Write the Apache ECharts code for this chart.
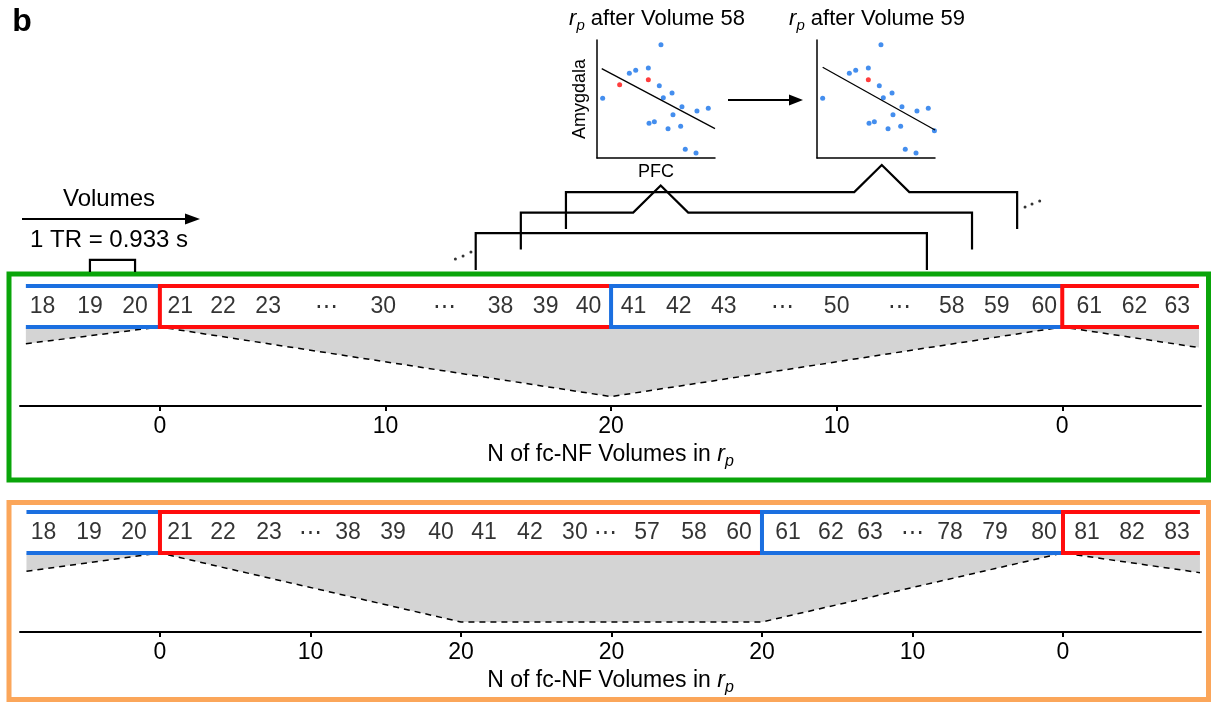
<!DOCTYPE html>
<html>
<head>
<meta charset="utf-8">
<title>fc-NF sliding window</title>
<script src="https://cdn.jsdelivr.net/npm/echarts@6/dist/echarts.min.js"></script>
<style>
  html, body { margin: 0; padding: 0; background: #fff; }
  #chart { width: 1213px; height: 705px; }
</style>
</head>
<body>
<div id="chart"></div>
<script>
// ---- values ----
// top panel: volume labels sit on slots of the "N of fc-NF volumes" axis
var topTokens = ['18', '19', '20', '21', '22', '23', '⋯', '30', '⋯', '38', '39', '40',
  '41', '42', '43', '⋯', '50', '⋯', '58', '59', '60', '61', '62', '63'];
var topTokenPos = [-5.2, -3.1, -1.1, 0.9, 2.8, 4.8, 7.4, 9.9, 12.6, 15.1, 17.1, 19.0,
  21.0, 23.0, 25.0, 27.6, 30.0, 32.8, 35.1, 37.1, 39.2, 41.2, 43.2, 45.1];
var topBlocks = [-5.94, 0, 20, 40, 46.06]; // block edges: blue | red | blue | red
var topNx = [-5.94, 0, 20, 40, 46.06];
var topNy = [4.8, 0, 20, 0, 5.9];
var topTicks = [0, 10, 20, 30, 40];
var topTickLabels = ['0', '10', '20', '10', '0'];

// bottom panel
var botTokens = ['18', '19', '20', '21', '22', '23', '⋯', '38', '39', '40', '41', '42', '30',
  '⋯', '57', '58', '60', '61', '62', '63', '⋯', '78', '79', '80', '81', '82', '83'];
var botTokenPos = [-7.74, -4.72, -1.73, 1.33, 4.19, 7.24, 9.97, 12.49, 15.48, 18.67, 21.53,
  24.58, 27.57, 29.63, 32.36, 35.48, 38.47, 41.73, 44.58, 47.18, 50.03, 52.49, 55.48,
  58.74, 61.59, 64.58, 67.57];
var botBlocks = [-8.87, 0, 40, 60, 69.1];
var botNx = [-8.87, 0, 20, 40, 60, 69.1];
var botNy = [5.3, 0, 20, 20, 0, 5.7];
var botTicks = [0, 10, 20, 30, 40, 50, 60];
var botTickLabels = ['0', '10', '20', '20', '20', '10', '0'];

// sliding 20-volume windows drawn as brackets above the top panel
var winStart = [14, 16, 18];
var winLevel = [1.9, 2.9, 3.9];
var winPeak = [null, 22.2, 32.0];
var winLen = 20;
var trSpan = [-3.1, -1.1];
var dotsLeft = [[13.1, 0.63], [13.44, 0.78], [13.79, 0.98]];
var dotsRight = [[38.35, 3.17], [38.66, 3.32], [39.0, 3.46]];

// PFC vs Amygdala scatter, r_p after volume 58 and 59
var blue58 = [[5.42, 9.60], [0.48, 5.06], [2.74, 7.18], [3.28, 7.43], [4.35, 7.63], [5.28, 6.13],
  [6.36, 5.51], [5.62, 5.11], [7.20, 4.35], [8.47, 3.98], [9.43, 4.21], [6.44, 3.67],
  [4.41, 2.94], [4.86, 3.08], [6.02, 2.48], [7.09, 2.69], [7.48, 0.74], [8.39, 0.42]];
var red58 = [[1.92, 6.21], [4.35, 6.64]];
var fit58 = [[0.4, 7.57], [10.0, 2.49]];
var blue59 = [[5.42, 9.60], [0.48, 5.06], [2.74, 7.18], [3.28, 7.43], [4.35, 7.63], [5.28, 6.13],
  [6.36, 5.51], [5.62, 5.11], [7.20, 4.35], [8.47, 3.98], [9.43, 4.21], [6.44, 3.67],
  [4.41, 2.94], [4.86, 3.08], [6.02, 2.48], [7.09, 2.69], [7.48, 0.74], [8.39, 0.42], [9.95, 2.30]];
var red59 = [[4.35, 6.64]];
var fit59 = [[0.48, 7.69], [10.0, 2.37]];

var FONT = '"Liberation Sans", Arial, Helvetica, sans-serif';
var BLUE = '#1b6fe0', RED = '#ff0d0d', GRAY = '#d4d4d4', DOT = '#1572ea';
var GREEN = '#0aa50a', ORANGE = '#fba65a';

var chart = echarts.init(document.getElementById('chart'));

function zip(xs, ys) {
  return xs.map(function (x, i) { return [x, ys[i]]; });
}

function blockSeries(edges, gi) {
  var out = [];
  for (var i = 0; i < edges.length - 1; i++) {
    var a = edges[i], b = edges[i + 1];
    var color = i % 2 === 0 ? BLUE : RED;
    // first block is cut off on the left, the others draw their own left edge
    var parts = i === 0 ? [[[a, 1], [b, 1]], [[a, 0], [b, 0]]] : [[[b, 1], [a, 1], [a, 0], [b, 0]]];
    parts.forEach(function (d) {
      out.push({
        type: 'line', xAxisIndex: gi, yAxisIndex: gi, data: d,
        symbol: 'none', clip: false, silent: true, z: 4,
        lineStyle: { color: color, width: 4, join: 'miter', cap: 'butt' }
      });
    });
  }
  return out;
}

function tokenSeries(tokens, pos, gi) {
  return {
    type: 'scatter', xAxisIndex: gi, yAxisIndex: gi, symbolSize: 0, silent: true, clip: false, z: 5,
    data: tokens.map(function (t, i) { return { name: t, value: [pos[i], 0.5] }; }),
    label: {
      show: true, position: 'inside', formatter: '{b}', color: '#000', fontSize: 23,
      fontFamily: FONT, textBorderWidth: 0
    }
  };
}

function nSeries(xs, ys, gi) {
  return {
    type: 'line', xAxisIndex: gi, yAxisIndex: gi, data: zip(xs, ys),
    symbol: 'none', clip: false, silent: true, z: 2,
    lineStyle: { color: '#000', width: 1.5, type: [6, 5] },
    areaStyle: { color: GRAY, opacity: 1, origin: 'start' }
  };
}

var nameRich = {
  r: { fontStyle: 'italic', fontSize: 23, fontFamily: FONT, color: '#000' },
  p: { fontStyle: 'italic', fontSize: 16, fontFamily: FONT, color: '#000', padding: [14, 0, 0, 0] }
};

function nAxis(gi, min, max, ticks, labels) {
  return {
    gridIndex: gi, type: 'value', min: min, max: max,
    axisLine: { show: true, onZero: false, lineStyle: { color: '#000', width: 2 } },
    axisTick: { show: true, customValues: ticks, length: 5, lineStyle: { color: '#000', width: 2 } },
    axisLabel: {
      show: true, customValues: ticks, margin: 9, fontSize: 23, color: '#000', fontFamily: FONT,
      formatter: function (v) { var i = ticks.indexOf(v); return i < 0 ? '' : labels[i]; }
    },
    splitLine: { show: false },
    name: 'N of fc-NF Volumes in {r|r}{p|p}', nameLocation: 'middle', nameGap: 34,
    nameTextStyle: { fontSize: 23, fontFamily: FONT, color: '#000', rich: nameRich }
  };
}

function hidden(gi, min, max) {
  return { gridIndex: gi, type: 'value', min: min, max: max, show: false };
}

function scatterAxes(gi) {
  var line = { show: true, onZero: false, lineStyle: { color: '#000', width: 1.5 } };
  return {
    x: {
      gridIndex: gi, type: 'value', min: 0, max: 10, axisLine: line, axisTick: { show: false },
      axisLabel: { show: false }, splitLine: { show: false }
    },
    y: {
      gridIndex: gi, type: 'value', min: 0, max: 10, axisLine: line, axisTick: { show: false },
      axisLabel: { show: false }, splitLine: { show: false }
    }
  };
}

var s5 = scatterAxes(5), s6 = scatterAxes(6);
s5.x.name = 'PFC';
s5.x.nameLocation = 'middle';
s5.x.nameGap = 5;
s5.x.nameTextStyle = { fontSize: 18, fontFamily: FONT, color: '#000', verticalAlign: 'top' };
s5.y.name = 'Amygdala';
s5.y.nameLocation = 'middle';
s5.y.nameGap = 8;
s5.y.nameTextStyle = { fontSize: 18, fontFamily: FONT, color: '#000' };

var bracketSeries = winStart.map(function (s, k) {
  var L = winLevel[k];
  var pts = [[s, L - 1.8], [s, L]];
  if (winPeak[k] !== null) {
    pts.push([winPeak[k] - 1.22, L], [winPeak[k], L + 1.32], [winPeak[k] + 1.22, L]);
  }
  pts.push([s + winLen, L], [s + winLen, L - 1.8]);
  return {
    type: 'line', xAxisIndex: 2, yAxisIndex: 2, data: pts, symbol: 'none', clip: false, silent: true,
    lineStyle: { color: '#000', width: 2.2, join: 'miter' }
  };
});

var series = []
  .concat(nSeries(topNx, topNy, 1))
  .concat(nSeries(botNx, botNy, 4))
  .concat(blockSeries(topBlocks, 0))
  .concat(blockSeries(botBlocks, 3))
  .concat(tokenSeries(topTokens, topTokenPos, 0))
  .concat(tokenSeries(botTokens, botTokenPos, 3))
  .concat(bracketSeries)
  .concat([
    {
      type: 'line', xAxisIndex: 2, yAxisIndex: 2, symbol: 'none', clip: false, silent: true,
      data: [[trSpan[0], 0], [trSpan[0], 0.59], [trSpan[1], 0.59], [trSpan[1], 0]],
      lineStyle: { color: '#000', width: 2.2, join: 'miter' }
    },
    {
      type: 'scatter', xAxisIndex: 2, yAxisIndex: 2, symbolSize: 3, clip: false, silent: true,
      data: dotsLeft.concat(dotsRight), itemStyle: { color: '#000' }
    },
    {
      type: 'line', xAxisIndex: 5, yAxisIndex: 5, data: fit58, symbol: 'none', silent: true,
      lineStyle: { color: '#000', width: 1.3 }
    },
    {
      type: 'scatter', xAxisIndex: 5, yAxisIndex: 5, data: blue58, symbolSize: 5, clip: false,
      silent: true, itemStyle: { color: DOT }
    },
    {
      type: 'scatter', xAxisIndex: 5, yAxisIndex: 5, data: red58, symbolSize: 5, clip: false,
      silent: true, itemStyle: { color: RED }
    },
    {
      type: 'line', xAxisIndex: 6, yAxisIndex: 6, data: fit59, symbol: 'none', silent: true,
      lineStyle: { color: '#000', width: 1.3 }
    },
    {
      type: 'scatter', xAxisIndex: 6, yAxisIndex: 6, data: blue59, symbolSize: 5, clip: false,
      silent: true, itemStyle: { color: DOT }
    },
    {
      type: 'scatter', xAxisIndex: 6, yAxisIndex: 6, data: red59, symbolSize: 5, clip: false,
      silent: true, itemStyle: { color: RED }
    }
  ]);

var titleRich = {
  r: { fontStyle: 'italic', fontSize: 22, fontFamily: FONT, fill: '#000' },
  p: { fontStyle: 'italic', fontSize: 15, fontFamily: FONT, fill: '#000', padding: [13, 0, 0, 0] },
  t: { fontSize: 22, fontFamily: FONT, fill: '#000' }
};

function centerText(text, x, y, size, weight) {
  return {
    type: 'text', silent: true, z: 10,
    style: {
      text: text, x: x, y: y, align: 'center', verticalAlign: 'middle',
      textAlign: 'center', textVerticalAlign: 'middle',
      font: (weight || 'normal') + ' ' + size + 'px ' + FONT, fill: '#000', rich: titleRich
    }
  };
}

var option = {
  animation: false,
  textStyle: { fontFamily: FONT },
  grid: [
    { left: 20, width: 1181, top: 286, height: 41 },
    { left: 20, width: 1181, top: 327, height: 79 },
    { left: 20, width: 1181, top: 149, height: 123 },
    { left: 20, width: 1181, top: 512, height: 41 },
    { left: 20, width: 1181, top: 553, height: 79 },
    { left: 597, width: 118, top: 40, height: 118 },
    { left: 817, width: 118, top: 40, height: 118 }
  ],
  xAxis: [
    hidden(0, -6.2, 46.15),
    nAxis(1, -6.2, 46.15, topTicks, topTickLabels),
    hidden(2, -6.2, 46.15),
    hidden(3, -9.3, 69.17),
    nAxis(4, -9.3, 69.17, botTicks, botTickLabels),
    s5.x,
    s6.x
  ],
  yAxis: [
    hidden(0, 0, 1),
    { gridIndex: 1, type: 'value', min: 0, max: 22.7, inverse: true, show: false },
    hidden(2, 0, 6),
    hidden(3, 0, 1),
    { gridIndex: 4, type: 'value', min: 0, max: 22.9, inverse: true, show: false },
    s5.y,
    s6.y
  ],
  graphic: [
    { type: 'rect', silent: true, z: 1, shape: { x: 9, y: 274, width: 1199.5, height: 206 },
      style: { fill: 'none', stroke: GREEN, lineWidth: 5 } },
    { type: 'rect', silent: true, z: 1, shape: { x: 9, y: 502.5, width: 1199.5, height: 197 },
      style: { fill: 'none', stroke: ORANGE, lineWidth: 5 } },
    centerText('b', 22, 22, 32, 'bold'),
    centerText('Volumes', 109, 199, 24),
    { type: 'line', silent: true, shape: { x1: 22, y1: 219, x2: 188, y2: 219 },
      style: { stroke: '#000', lineWidth: 2 } },
    { type: 'polygon', silent: true, shape: { points: [[185, 213.5], [200, 219], [185, 224.5]] },
      style: { fill: '#000' } },
    centerText('1 TR = 0.933 s', 109, 240, 24),
    centerText('{r|r}{p|p}{t| after Volume 58}', 657, 19, 22),
    centerText('{r|r}{p|p}{t| after Volume 59}', 877, 19, 22),
    { type: 'line', silent: true, shape: { x1: 728, y1: 100, x2: 792, y2: 100 },
      style: { stroke: '#000', lineWidth: 2 } },
    { type: 'polygon', silent: true, shape: { points: [[789, 94.5], [803, 100], [789, 105.5]] },
      style: { fill: '#000' } }
  ],
  series: series
};

chart.setOption(option);
</script>
</body>
</html>
